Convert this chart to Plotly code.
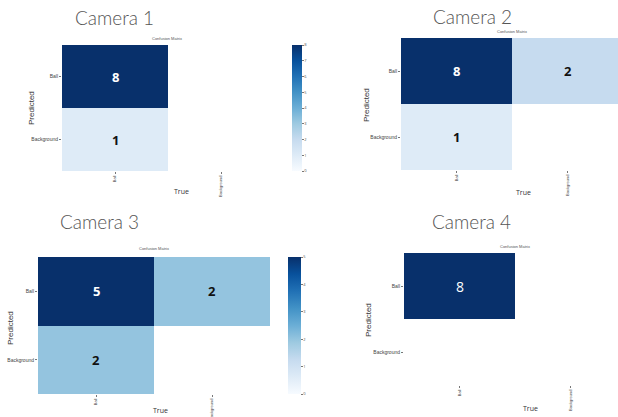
import plotly.graph_objects as go

W, H = 618, 417

categories = ["Ball", "Background"]
titles = ["Camera 1", "Camera 2", "Camera 3", "Camera 4"]
cam1 = [[8, None], [1, None]]
cam2 = [[8, 2], [1, None]]
cam3 = [[5, 2], [2, None]]
cam4 = [[8, None], [None, None]]
zmax_vals = [8, 8, 5, 8]
cb1_ticks = [0, 1, 2, 3, 4, 5, 6, 7, 8]
cb3_ticks = [0, 1, 2, 3, 4, 5]

blues = [[0.0, "#f7fbff"], [0.125, "#deebf7"], [0.25, "#c6dbef"], [0.375, "#9ecae1"],
         [0.5, "#6baed6"], [0.625, "#4292c6"], [0.75, "#2171b5"], [0.875, "#08519c"],
         [1.0, "#08306b"]]

def px(x):
    return x / W

def py(y):
    return 1 - y / H

# panel geometry in pixels: (x0, x1, y0, y1, xrange_max)
panels = [
    (62, 274, 45, 171, 1.5),
    (401, 618, 38, 170, 1.455),
    (38, 270, 257, 394, 1.5),
    (404, 618, 253, 385, 1.428),
]
mats = [cam1, cam2, cam3, cam4]
colorbars = [
    dict(x=px(292), xanchor="left", y=py(108), yanchor="middle", len=126, lenmode="pixels",
         thickness=10, thicknessmode="pixels", xpad=0, ypad=0,
         tickvals=cb1_ticks, ticks="outside", ticklen=2,
         tickcolor="#777", tickfont=dict(size=4, color="#555"), outlinewidth=0),
    None,
    dict(x=px(288), xanchor="left", y=py(325.5), yanchor="middle", len=137, lenmode="pixels",
         thickness=13, thicknessmode="pixels", xpad=0, ypad=0,
         tickvals=cb3_ticks, ticks="outside", ticklen=2,
         tickcolor="#777", tickfont=dict(size=4, color="#555"), outlinewidth=0),
    None,
]

fig = go.Figure()
annotations = []
title_pos = [(114, 18), (472, 17), (99, 221), (471, 221)]
cm_pos = [(167, 39), (512, 32), (154, 249), (515, 246)]
pred_pos = [(32, 108), (366, 105), (10, 328), (368, 320)]
true_pos = [(181, 191), (523, 192), (160, 410), (530, 408)]

for i, (m, (x0, x1, y0, y1, xr), cb) in enumerate(zip(mats, panels, colorbars)):
    n = "" if i == 0 else str(i + 1)
    fig.add_trace(go.Heatmap(
        z=m, x=categories, y=categories, colorscale=blues, zmin=0, zmax=zmax_vals[i],
        showscale=cb is not None, colorbar=cb if cb else None,
        xaxis="x" + n, yaxis="y" + n, hoverinfo="skip"))
    fig.layout["xaxis" + n] = dict(
        domain=[px(x0), px(x1)], range=[-0.5, xr], anchor="y" + n, automargin=False,
        showgrid=False, zeroline=False, tickangle=-90, ticks="outside", ticklen=2,
        tickcolor="#777", tickfont=dict(size=4, color="#444", family="Liberation Sans"),
        showline=False, fixedrange=True)
    fig.layout["yaxis" + n] = dict(
        domain=[py(y1), py(y0)], range=[1.5, -0.5], anchor="x" + n, automargin=False,
        showgrid=False, zeroline=False, ticks="outside", ticklen=2,
        tickcolor="#777", tickfont=dict(size=5, color="#444", family="Liberation Sans"),
        showline=False, fixedrange=True)
    zmx = zmax_vals[i]
    for r, rc in enumerate(categories):
        for c, cc in enumerate(categories):
            v = m[r][c]
            if v is None:
                continue
            dark = v / zmx > 0.6
            if i == 3:
                font = dict(size=14, color="white", family="Open Sans")
                txt = str(v)
            else:
                font = dict(size=13, color="white" if dark else "#111", family="Open Sans")
                txt = "<b>%d</b>" % v
            annotations.append(dict(x=cc, y=rc, xref="x" + n, yref="y" + n, text=txt,
                                    showarrow=False, font=font))
    tx, ty = title_pos[i]
    annotations.append(dict(x=px(tx), y=py(ty), xref="paper", yref="paper", text=titles[i],
                            showarrow=False, xanchor="center", yanchor="middle",
                            font=dict(size=19, color="#555", family="Lato", weight=300)))
    cx, cy = cm_pos[i]
    annotations.append(dict(x=px(cx), y=py(cy), xref="paper", yref="paper", text="Confusion Matrix",
                            showarrow=False, xanchor="center", yanchor="middle",
                            font=dict(size=4, color="#555", family="Liberation Sans")))
    pxx, pyy = pred_pos[i]
    annotations.append(dict(x=px(pxx), y=py(pyy), xref="paper", yref="paper", text="Predicted",
                            showarrow=False, textangle=-90, xanchor="center", yanchor="middle",
                            font=dict(size=8, color="#333", family="Liberation Sans")))
    tx2, ty2 = true_pos[i]
    annotations.append(dict(x=px(tx2), y=py(ty2), xref="paper", yref="paper", text="True",
                            showarrow=False, xanchor="center", yanchor="middle",
                            font=dict(size=7, color="#333", family="Open Sans")))

fig.update_layout(
    template="none",
    width=W, height=H, margin=dict(l=0, r=0, t=0, b=0, autoexpand=False),
    paper_bgcolor="white", plot_bgcolor="white", showlegend=False,
    annotations=annotations, font=dict(family="Open Sans", color="#444"))

fig.write_html("out.html", config={"displayModeBar": False},
               post_script="document.body.style.margin='0px';document.body.style.overflow='hidden';")
